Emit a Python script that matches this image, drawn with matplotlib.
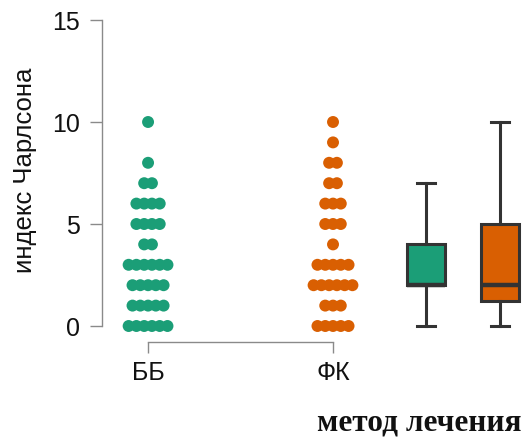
import numpy as np
import matplotlib
matplotlib.use("Agg")
import matplotlib.pyplot as plt

# ---- data ----
categories = ["ББ", "ФК"]
bb_values = [0]*6 + [1]*5 + [2]*5 + [3]*6 + [4]*2 + [5]*4 + [6]*4 + [7]*2 + [8] + [10]
fk_values = [0]*5 + [1]*3 + [2]*6 + [3]*5 + [4] + [5]*3 + [6]*3 + [7]*2 + [8]*2 + [9] + [10]
# box statistics: whislo, q1, median, q3, whishi
bb_box = [0, 2, 2, 4, 7]
fk_box = [0, 1.25, 2, 5, 10]
yticks = [0, 5, 10, 15]

green = "#1B9E77"
orange = "#D95F02"
edge = "#333333"

DPI = 100
fig = plt.figure(figsize=(5.26, 4.37), dpi=DPI)
ax = fig.add_axes([102/526, 111/437, 418/526, 306/437])

def row_offsets(vals, spacing=0.042):
    vals = np.asarray(vals)
    offs = np.zeros(len(vals), dtype=float)
    for v in np.unique(vals):
        idx = np.where(vals == v)[0]
        n = len(idx)
        offs[idx] = (np.arange(n) - (n - 1) / 2) * spacing
    return offs

for pos, vals, col in [(1, bb_values, green), (2, fk_values, orange)]:
    x = pos + row_offsets(vals)
    ax.scatter(x, vals, s=74, color=col, edgecolors="none", clip_on=False, zorder=3)

stats = []
for s in (bb_box, fk_box):
    stats.append(dict(whislo=s[0], q1=s[1], med=s[2], q3=s[3], whishi=s[4], fliers=[]))
bp = ax.bxp(stats, positions=[2.503, 2.903], widths=0.205, patch_artist=True,
            showfliers=False, manage_ticks=False,
            boxprops=dict(edgecolor=edge, linewidth=2.2),
            medianprops=dict(color=edge, linewidth=3.2),
            whiskerprops=dict(color=edge, linewidth=2.2),
            capprops=dict(color=edge, linewidth=2.2),
            capwidths=0.1)
for patch, col in zip(bp["boxes"], [green, orange]):
    patch.set_facecolor(col)
for k in bp:
    for a in bp[k]:
        a.set_clip_on(False)

ax.set_xlim(0.751, 3.011)
ax.set_ylim(0, 15)

for side in ("top", "right"):
    ax.spines[side].set_visible(False)
ax.spines["left"].set_bounds(0, 15)
ax.spines["left"].set_color("#8a8a8a")
ax.spines["left"].set_linewidth(1.0)
ax.spines["bottom"].set_position(("outward", 11.5))
ax.spines["bottom"].set_bounds(1, 2)
ax.spines["bottom"].set_color("#8a8a8a")
ax.spines["bottom"].set_linewidth(1.0)

ax.set_yticks(yticks)
ax.set_yticklabels([str(t) for t in yticks])
ax.set_xticks([1, 2])
ax.set_xticklabels(categories)
ax.tick_params(axis="y", length=8.6, width=1.0, color="#8a8a8a", pad=7,
               labelsize=18, labelcolor="#111111")
ax.tick_params(axis="x", direction="out", length=8, width=1.0, color="#8a8a8a",
               pad=6, labelsize=18, labelcolor="#111111")
for lab in ax.get_xticklabels() + ax.get_yticklabels():
    lab.set_fontfamily("Liberation Sans")

ax.set_ylabel("индекс Чарлсона", fontsize=18.5, family="Liberation Sans",
              color="#111111", va="center")
ax.yaxis.set_label_coords(-(102 - 25) / 418, 0.51)

fig.text(419/526, 6/437, "метод лечения", ha="center", va="baseline",
         fontsize=22.5, fontweight="bold", family="Liberation Serif", color="#111111")

fig.savefig("out.png", dpi=DPI)
